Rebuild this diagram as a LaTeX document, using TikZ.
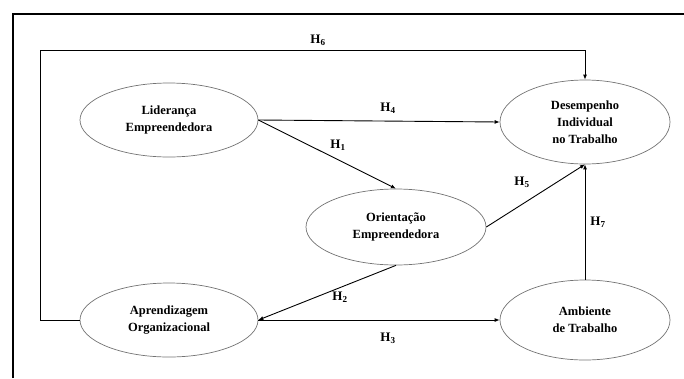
\documentclass[tikz,border=0pt]{standalone}
\usepackage{fontspec}
\setmainfont{Liberation Serif}
\usetikzlibrary{shapes.geometric,arrows.meta}

\begin{document}
\begin{tikzpicture}[x=1pt, y=-1pt,
    construct/.style={ellipse, draw=black!55, line width=0.7pt, inner sep=0pt, align=center, font=\bfseries\fontsize{12.5}{17}\selectfont},
    path/.style={-{Latex[length=5pt,width=4pt]}, line width=0.9pt},
    hyp/.style={font=\bfseries\fontsize{13}{15}\selectfont, inner sep=1pt}]
    \useasboundingbox (0,0) rectangle (684,378);
    \draw[line width=2.2pt] (13,378) -- (13,14) -- (684,14);

    \node[construct, minimum width=178, minimum height=74] (lid) at (169,120) {Liderança\\Empreendedora};
    \node[construct, minimum width=170, minimum height=84] (des) at (585,122) {Desempenho\\Individual\\no Trabalho};
    \node[construct, minimum width=180, minimum height=76] (ori) at (396,227) {Orientação\\Empreendedora};
    \node[construct, minimum width=178, minimum height=74] (apr) at (169,320) {Aprendizagem\\Organizacional};
    \node[construct, minimum width=170, minimum height=80] (amb) at (585,320) {Ambiente\\de Trabalho};

    \coordinate (loop) at (40,50);

    \draw[path] (lid.east) -- (ori.north);
    \draw[path] (ori.south) -- (apr.east);
    \draw[path] (apr.east) -- (amb.west);
    \draw[path] (lid.east) -- (des.west);
    \draw[path] (ori.east) -- (des.south);
    \draw[path] (apr.west) -| (loop) -| (des.north);
    \draw[path] (amb.north) -- (des.south);

    \node[hyp] (h1) at (338,145) {H\textsubscript{1}};
    \node[hyp] (h2) at (340,297) {H\textsubscript{2}};
    \node[hyp] (h3) at (388,338) {H\textsubscript{3}};
    \node[hyp] (h4) at (388,108) {H\textsubscript{4}};
    \node[hyp] (h5) at (522,182) {H\textsubscript{5}};
    \node[hyp] (h6) at (318,40) {H\textsubscript{6}};
    \node[hyp] (h7) at (598,222) {H\textsubscript{7}};
\end{tikzpicture}
\end{document}
